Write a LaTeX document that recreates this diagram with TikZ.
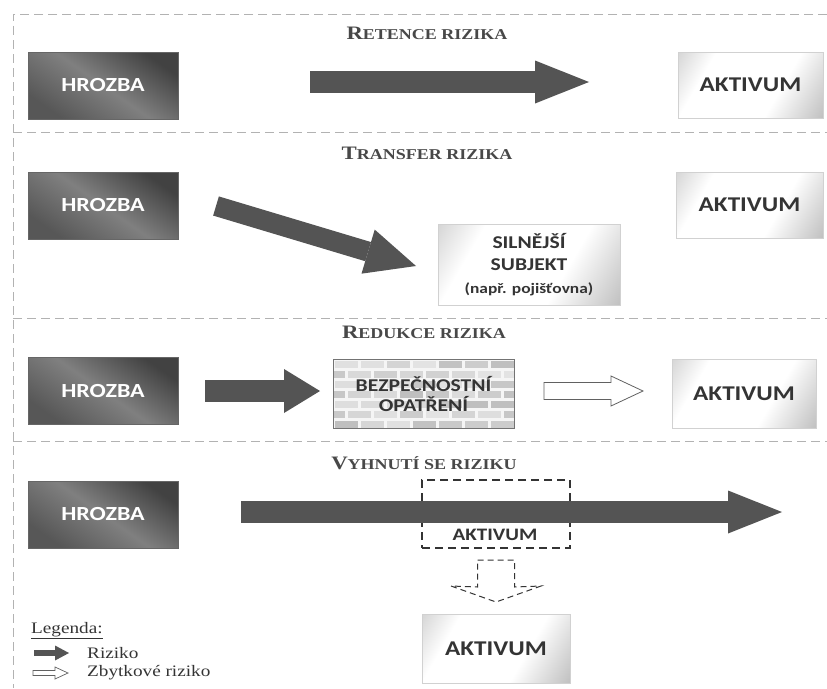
\documentclass[tikz,border=0pt]{standalone}
\usepackage{fontspec}
\usepackage{graphicx}
\setmainfont{Liberation Serif}
\newfontfamily\labelfont{Carlito}
\usetikzlibrary{arrows.meta,calc}
\definecolor{riskgray}{RGB}{84,84,84}
\definecolor{inkdark}{RGB}{52,52,52}
\definecolor{framegray}{RGB}{178,178,178}
% light box fill: grey corners, white middle
\pgfdeclarehorizontalshading{assetshade}{100bp}{color(0bp)=(black!34); color(30bp)=(white);
  color(62bp)=(white); color(100bp)=(black!42)}
% horizontally widened text
\newcommand\widetext[2][1.2]{\scalebox{#1}[1]{#2}}
% hand-made small capitals for the section headings
\newcommand\smcaps[2]{\scalebox{1.2}[1]{\bfseries\fontsize{19}{19}\selectfont #1\fontsize{15}{15}\selectfont #2}}

\begin{document}
\begin{tikzpicture}[x=1pt,y=-1pt,
  frame/.style={draw=framegray, line width=0.8pt, dash pattern=on 9pt off 5pt},
  threat/.style={rectangle, draw=black!60, line width=0.6pt, minimum width=150pt,
    minimum height=67pt, inner sep=0pt, top color=black!74, bottom color=black!66,
    middle color=black!50, shading angle=-35, text=white,
    font=\labelfont\bfseries\fontsize{20}{20}\selectfont},
  asset/.style={rectangle, draw=black!18, line width=0.6pt, inner sep=0pt,
    shading=assetshade, shading angle=-30,
    text=inkdark, font=\labelfont\bfseries\fontsize{21}{21}\selectfont},
  heading/.style={inner sep=0pt, text=inkdark!90},
  legendtext/.style={inner sep=0pt, anchor=west, text=inkdark,
    font=\fontsize{16}{16}\selectfont},
  risk/.style={draw=riskgray, line width=22pt},
  resid/.style={draw=black!62, line width=0.8pt, fill=white, line join=miter},
  ghost/.style={draw=inkdark, line width=1.2pt, dash pattern=on 8pt off 5pt}
]
\useasboundingbox (0,0) rectangle (827,688);
\fill[white] (0,0) rectangle (827,688);

% ---- dashed frame and section separators
\draw[frame] (827,14) -- (13,14) -- (13,688);
\draw[frame] (13,132) -- (827,132);
\draw[frame] (13,318) -- (827,318);
\draw[frame] (13,441) -- (827,441);

% ---- 1: retention
\node[heading] (t1) at (427,33) {\smcaps{R}{ETENCE RIZIKA}};
\node[threat] (h1) at (103,85.5) {\widetext{HROZBA}};
\node[asset, minimum width=145pt, minimum height=66pt] (a1) at (750.5,85) {\widetext{AKTIVUM}};
\coordinate (r1s) at (310,82);
\coordinate (r1e) at (589,82);
\draw[risk, -{Triangle[length=54pt,width=43pt,line width=0pt]}] (r1s) -- (r1e);

% ---- 2: transfer
\node[heading] (t2) at (427,153) {\smcaps{T}{RANSFER RIZIKA}};
\node[threat] (h2) at (103,205.5) {\widetext{HROZBA}};
\node[asset, minimum width=147pt, minimum height=66pt] (a2) at (749.5,205) {\widetext{AKTIVUM}};
\node[asset, minimum width=182pt, minimum height=81pt, align=center,
  font=\labelfont\bfseries\fontsize{18}{21.5}\selectfont] (s2) at (529,265)
  {\widetext{SILNĚJŠÍ}\\\widetext{SUBJEKT}\\[2pt]
   {\fontsize{14.5}{16}\selectfont\widetext{(např. pojišťovna)}}};
\coordinate (r2s) at (216,206);
\coordinate (r2e) at (416,266);
\draw[risk, line width=20pt, -{Triangle[length=50pt,width=46pt,line width=0pt]}] (r2s) -- (r2e);

% ---- 3: reduction
\node[heading] (t3) at (424,332) {\smcaps{R}{EDUKCE RIZIKA}};
\node[threat] (h3) at (103,391) {\widetext{HROZBA}};
\node[asset, minimum width=144pt, minimum height=69pt] (a3) at (744,393.5) {\widetext{AKTIVUM}};
% brick wall behind the safeguard label
\begin{scope}
  \clip (333,359) rectangle (514,428);
  \fill[black!4] (333,359) rectangle (514,428);
  \pgfmathsetseed{7}
  \foreach \r in {0,...,6}{
    \foreach \c in {-1,...,7}{
      \pgfmathsetmacro\bx{333+\c*26+mod(\r,2)*13}
      \pgfmathsetmacro\by{359+\r*10}
      \pgfmathsetmacro\bs{int(10+16*rnd)}
      \fill[black!\bs] (\bx+1.5,\by+1.5) rectangle (\bx+25,\by+9);
    }
  }
\end{scope}
\node[draw=black!55, line width=0.7pt, minimum width=181pt, minimum height=69pt,
  inner sep=0pt, align=center, text=inkdark,
  font=\labelfont\bfseries\fontsize{18}{20}\selectfont] (b3) at (423.5,393.5)
  {\widetext{BEZPEČNOSTNÍ}\\\widetext{OPATŘENÍ}};
\coordinate (r3s) at (205,391);
\coordinate (r3e) at (320,391);
\draw[risk, -{Triangle[length=36pt,width=44pt,line width=0pt]}] (r3s) -- (r3e);
\coordinate (w3s) at (544,391);
\coordinate (w3e) at (643,391);
\draw[resid] ($(w3s)+(0,-8.5)$) -- ($(w3e)+(-32,-8.5)$) -- ($(w3e)+(-32,-15)$)
  -- (w3e) -- ($(w3e)+(-32,15)$) -- ($(w3e)+(-32,8.5)$) -- ($(w3s)+(0,8.5)$) -- cycle;

% ---- 4: avoidance
\node[heading] (t4) at (424,463) {\smcaps{V}{YHNUTÍ SE RIZIKU}};
\node[threat] (h4) at (103,514.5) {\widetext{HROZBA}};
\node[ghost, minimum width=148pt, minimum height=68pt, inner sep=0pt] (d4) at (496,514) {};
\coordinate (r4s) at (241,512);
\coordinate (r4e) at (782,512);
\draw[risk, -{Triangle[length=54pt,width=43pt,line width=0pt]}] (r4s) -- (r4e);
\node[inner sep=0pt, text=inkdark, font=\labelfont\bfseries\fontsize{17.5}{17.5}\selectfont]
  (d4t) at (495,535) {\widetext{AKTIVUM}};
% residual risk, dashed outline pointing down
\coordinate (v4s) at (496,560);
\coordinate (v4e) at (496,602);
\draw[ghost, line width=1pt, dash pattern=on 6pt off 4pt]
  ($(v4s)+(-18.5,0)$) -- ($(v4s)+(18.5,0)$) -- ($(v4s)+(18.5,27)$) -- ($(v4s)+(45,26)$)
  -- (v4e) -- ($(v4s)+(-45,26)$) -- ($(v4s)+(-18.5,27)$) -- cycle;
\node[asset, minimum width=148pt, minimum height=69pt] (a4) at (496,648.5) {\widetext{AKTIVUM}};

% ---- legend
\node[legendtext] (lg) at (31,631) {\widetext{\underline{Legenda:}}};
\coordinate (l1s) at (34,653);
\coordinate (l1e) at (69,653);
\draw[risk, line width=6pt, -{Triangle[length=14pt,width=15pt,line width=0pt]}] (l1s) -- (l1e);
\node[legendtext] (lr) at (87,653) {\widetext{Riziko}};
\coordinate (l2s) at (33,673);
\coordinate (l2e) at (68,673);
\draw[resid, line width=0.7pt] ($(l2s)+(0,-2.5)$) -- ($(l2e)+(-13,-2.5)$) -- ($(l2e)+(-13,-6)$)
  -- (l2e) -- ($(l2e)+(-13,6)$) -- ($(l2e)+(-13,2.5)$) -- ($(l2s)+(0,2.5)$) -- cycle;
\node[legendtext] (lz) at (87,673) {\widetext{Zbytkové riziko}};
\end{tikzpicture}
\end{document}
